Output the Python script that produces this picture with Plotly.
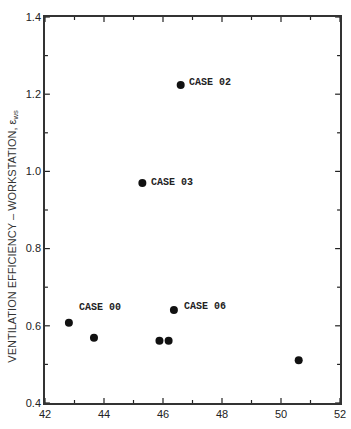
import plotly.graph_objects as go

x_vals = [42.81, 43.66, 45.88, 46.19, 46.37, 50.60, 46.60, 45.30]
y_vals = [0.608, 0.569, 0.561, 0.561, 0.641, 0.511, 1.224, 0.970]

label_x = [42.81, 46.37, 46.60, 45.30]
label_y = [0.608, 0.641, 1.224, 0.970]
label_text = ["CASE 00", "CASE 06", "CASE 02", "CASE 03"]
label_dx = [8, 8, 6, 7]
label_dy = [15, 3, 2, 0]

x_major = [42, 44, 46, 48, 50, 52]
x_minor = [43, 45, 47, 49, 51]
y_major = [0.4, 0.6, 0.8, 1.0, 1.2, 1.4]
y_minor = [0.5, 0.7, 0.9, 1.1, 1.3]

x_range = [42, 52]
y_range = [0.4, 1.4]

W, H = 351, 429
ML, MR, MT, MB = 45, 5, 17, 26
plot_w = W - ML - MR
plot_h = H - MT - MB
px_x = (x_range[1] - x_range[0]) / plot_w   # data units per pixel, x
px_y = (y_range[1] - y_range[0]) / plot_h   # data units per pixel, y
MAJ, MIN = 5, 3
TC = "#222222"

fig = go.Figure()
fig.add_trace(go.Scatter(
    x=x_vals, y=y_vals, mode="markers",
    marker=dict(size=8, color="#111111"),
    showlegend=False, hoverinfo="skip"))

for lx, ly, t, dx, dy in zip(label_x, label_y, label_text, label_dx, label_dy):
    fig.add_annotation(x=lx, y=ly, text="<b>" + t + "</b>", showarrow=False,
                       xanchor="left", yanchor="middle", xshift=dx, yshift=dy,
                       font=dict(family="Liberation Mono", size=10, color="#222222"))

fig.add_annotation(x=(12 - ML) / plot_w, y=(403 - 236) / plot_h, xref="paper", yref="paper",
                   text="VENTILATION EFFICIENCY – WORKSTATION, ε<sub>ws</sub>",
                   textangle=-90, showarrow=False, xanchor="center", yanchor="middle",
                   font=dict(family="Liberation Sans", size=11, color="#333333"))

# inside tick marks on all four sides, at the tick values (lengths via axis scale)
for vals, ln in ((x_major, MAJ), (x_minor, MIN)):
    for v in vals:
        fig.add_shape(type="line", xref="x", yref="y", x0=v, x1=v,
                      y0=y_range[0], y1=y_range[0] + ln * px_y,
                      line=dict(color=TC, width=1.2), layer="above")
        fig.add_shape(type="line", xref="x", yref="y", x0=v, x1=v,
                      y0=y_range[1], y1=y_range[1] - ln * px_y,
                      line=dict(color=TC, width=1.2), layer="above")
for vals, ln in ((y_major, MAJ), (y_minor, MIN)):
    for v in vals:
        fig.add_shape(type="line", xref="x", yref="y", y0=v, y1=v,
                      x0=x_range[0], x1=x_range[0] + ln * px_x,
                      line=dict(color=TC, width=1.2), layer="above")
        fig.add_shape(type="line", xref="x", yref="y", y0=v, y1=v,
                      x0=x_range[1], x1=x_range[1] - ln * px_x,
                      line=dict(color=TC, width=1.2), layer="above")

common = dict(showgrid=False, zeroline=False, showline=True, linecolor="#333333",
              linewidth=1.5, mirror=True, ticks="",
              tickfont=dict(family="Liberation Sans", size=11, color="#222222"))

fig.update_layout(
    width=W, height=H, margin=dict(l=ML, r=MR, t=MT, b=MB),
    plot_bgcolor="white", paper_bgcolor="white",
    xaxis=dict(range=x_range, tickmode="array", tickvals=x_major,
               ticktext=[str(v) for v in x_major], **common),
    yaxis=dict(range=y_range, tickmode="array", tickvals=y_major,
               ticktext=[f"{v:.1f}" for v in y_major], **common),
)

fig.write_html("out.html")
